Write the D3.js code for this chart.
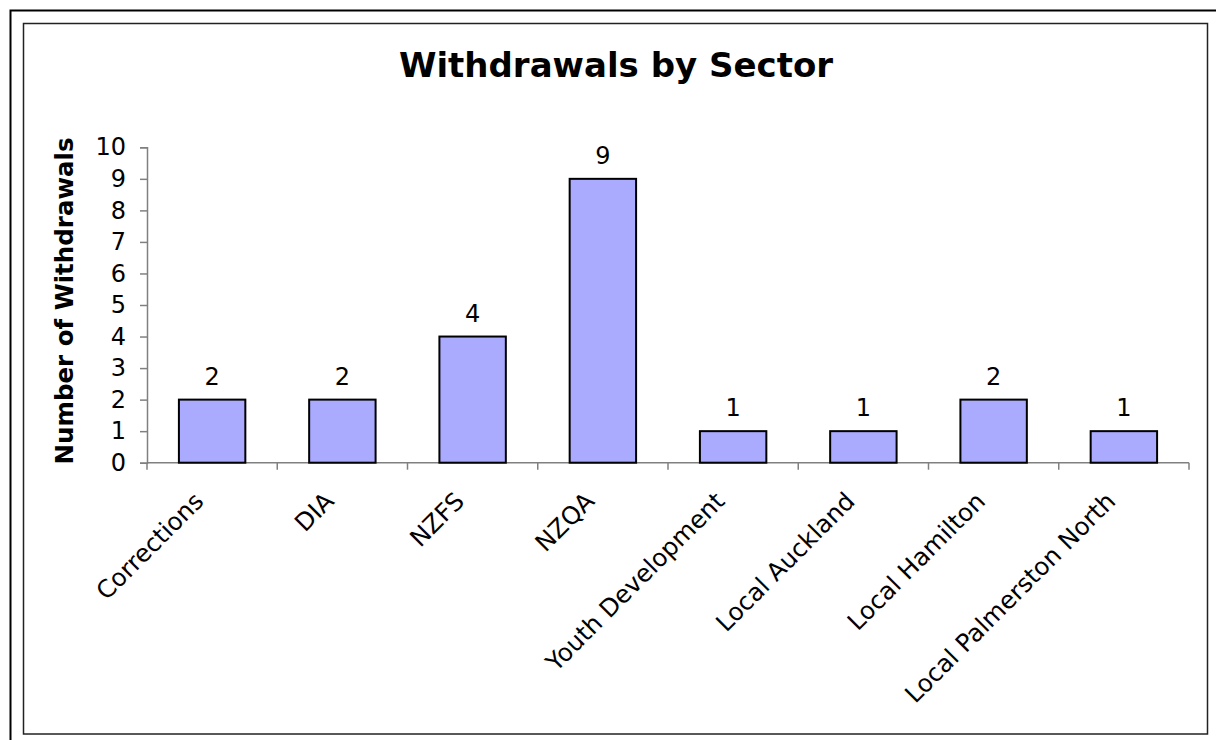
<!DOCTYPE html>
<html>
<head>
<meta charset="utf-8">
<script src="https://cdn.jsdelivr.net/npm/d3@7"></script>
<style>
  body { margin: 0; background: #fff; }
  svg { display: block; font-family: "DejaVu Sans", Verdana, sans-serif; }
</style>
</head>
<body>
<div id="main"></div>
<script>
"use strict";

var sectors = ["Corrections", "DIA", "NZFS", "NZQA", "Youth Development", "Local Auckland", "Local Hamilton", "Local Palmerston North"];
var withdrawals = [2, 2, 4, 9, 1, 1, 2, 1];
var yTicks = [0, 1, 2, 3, 4, 5, 6, 7, 8, 9, 10];

var width = 1216, height = 740;
var plot = {left: 147, right: 1189, top: 147.3, bottom: 462.7};

var svg = d3.select("#main").append("svg")
    .attr("width", width)
    .attr("height", height);

svg.append("rect").attr("width", width).attr("height", height).attr("fill", "white");

// outer frame (cut off at right/bottom) and inner chart area frame
svg.append("path")
    .attr("d", "M10.5,745 L10.5,10.5 L1220,10.5")
    .attr("fill", "none").attr("stroke", "#000").attr("stroke-width", 2);
svg.append("rect")
    .attr("x", 23.5).attr("y", 23.5).attr("width", 1184).attr("height", 710.5)
    .attr("fill", "none").attr("stroke", "#222").attr("stroke-width", 1.5);

var x = d3.scaleBand().domain(sectors).range([plot.left, plot.right]);
var y = d3.scaleLinear().domain([0, 10]).range([plot.bottom, plot.top]);
var barW = x.bandwidth() * 0.51;

// title
svg.append("text")
    .attr("x", 616).attr("y", 77)
    .attr("text-anchor", "middle")
    .style("font-size", "34px").style("font-weight", "bold")
    .text("Withdrawals by Sector");

// y axis
var yAxis = svg.append("g")
    .attr("transform", "translate(" + plot.left + ",0)")
    .call(d3.axisLeft(y).tickValues(yTicks).tickSize(7).tickPadding(14).tickFormat(d3.format("d")));
yAxis.select(".domain").attr("stroke", "#808080").attr("stroke-width", 1.5);
yAxis.selectAll(".tick line").attr("stroke", "#808080").attr("stroke-width", 1.5);
yAxis.selectAll(".tick text").style("font-size", "24px").attr("fill", "#000")
    .style("font-family", "DejaVu Sans, Verdana, sans-serif");

// x axis: ticks between categories
var boundaries = d3.range(sectors.length + 1).map(function(i){ return plot.left + i * x.step(); });
svg.append("line")
    .attr("x1", plot.left).attr("x2", plot.right)
    .attr("y1", plot.bottom).attr("y2", plot.bottom)
    .attr("stroke", "#808080").attr("stroke-width", 1.5);
svg.selectAll(".xtick").data(boundaries).enter().append("line")
    .attr("class", "xtick")
    .attr("x1", function(d){ return d; }).attr("x2", function(d){ return d; })
    .attr("y1", plot.bottom).attr("y2", plot.bottom + 7)
    .attr("stroke", "#808080").attr("stroke-width", 1.5);

svg.selectAll(".xlabel").data(sectors).enter().append("text")
    .attr("class", "xlabel")
    .attr("text-anchor", "end")
    .attr("transform", function(d){
        return "translate(" + (x(d) + x.bandwidth() / 2 - 7) + "," + (plot.bottom + 40) + ") rotate(-45)";
    })
    .style("font-size", "24.5px")
    .text(function(d){ return d; });

// y axis title
svg.append("text")
    .attr("transform", "translate(73,301) rotate(-90)")
    .attr("text-anchor", "middle")
    .style("font-size", "24.5px").style("font-weight", "bold")
    .text("Number of Withdrawals");

// bars
svg.selectAll(".bar").data(withdrawals).enter().append("rect")
    .attr("class", "bar")
    .attr("x", function(d, i){ return x(sectors[i]) + (x.bandwidth() - barW) / 2; })
    .attr("y", function(d){ return y(d); })
    .attr("width", barW)
    .attr("height", function(d){ return y(0) - y(d); })
    .attr("fill", "#AAAAFF").attr("stroke", "#000").attr("stroke-width", 2);

// value labels
svg.selectAll(".val").data(withdrawals).enter().append("text")
    .attr("class", "val")
    .attr("x", function(d, i){ return x(sectors[i]) + x.bandwidth() / 2; })
    .attr("y", function(d){ return y(d) - 15; })
    .attr("text-anchor", "middle")
    .style("font-size", "24px")
    .text(function(d){ return d; });
</script>
</body>
</html>
